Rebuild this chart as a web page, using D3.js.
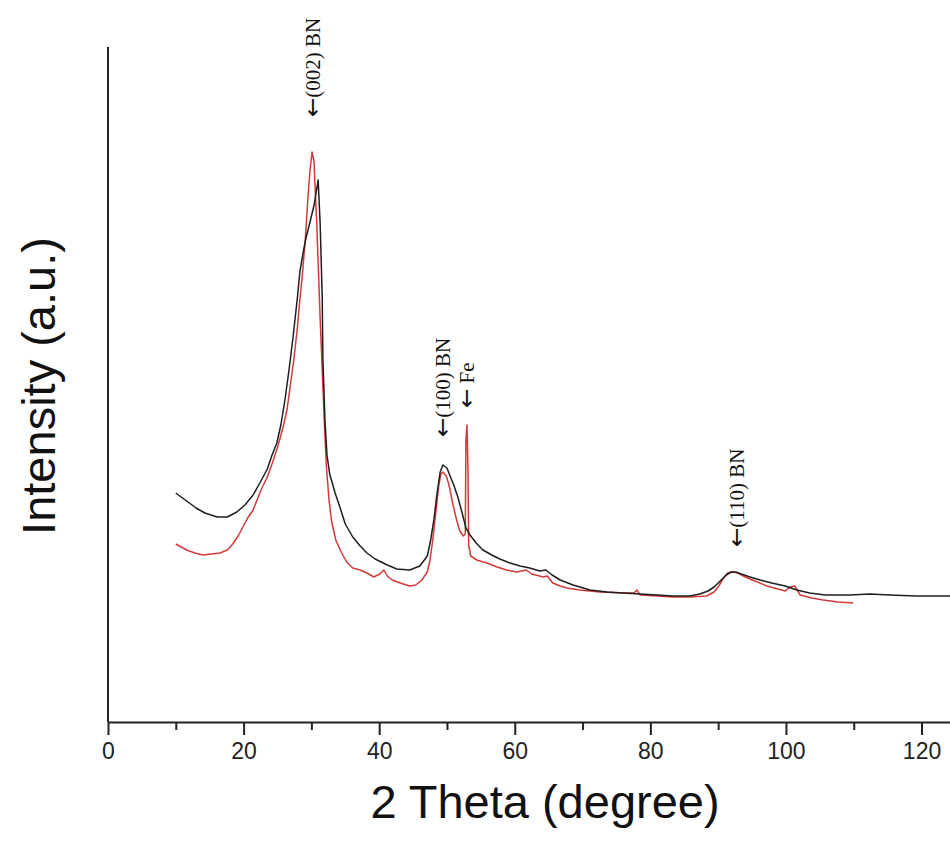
<!DOCTYPE html>
<html>
<head>
<meta charset="utf-8">
<script src="https://cdn.jsdelivr.net/npm/d3@7"></script>
<style>
  html, body { margin: 0; padding: 0; background: #fff; }
  svg { display: block; }
</style>
</head>
<body>
<svg id="chart" width="950" height="845"></svg>
<script>
// ---------- DATA ----------
const blackTheta = [10.0,11.0,12.0,13.0,14.3,16.1,17.6,19.0,20.2,21.4,22.4,23.5,24.2,24.9,25.5,26.1,26.7,27.3,27.9,28.3,28.8,29.2,29.8,30.4,31.0,31.3,31.6,31.7,32.0,32.3,32.7,33.5,34.2,35.0,36.1,37.2,38.2,39.4,41.2,42.6,44.5,46.0,47.1,47.6,48.1,48.5,49.0,49.4,50.0,50.4,51.0,51.6,52.2,52.8,53.4,54.3,55.3,56.6,57.8,59.3,60.8,62.2,63.7,64.6,65.5,66.7,68.6,71.1,73.6,76.0,78.5,81.0,83.3,85.8,87.3,88.5,89.4,90.3,91.2,91.9,92.6,93.4,94.7,96.2,97.9,99.9,101.6,103.5,105.8,109.4,112.4,115.3,119.3,124.2];
const blackIntensity = [229,224,219,214,209,205,205,210,217,227,239,253,267,279,297,322,352,385,422,450,470,484,500,517,542,497,425,362,302,267,248,229,215,198,185,176,169,163,157,153,152,156,166,182,204,227,250,257,254,247,237,225,210,194,187,179,172,167,163,159,156,154,151,152,147,142,137,132,130,129,128,127,126,126,128,131,135,141,147,150,150,148,145,142,139,136,132,129,127,127,128,127,126,126];

const redTheta = [10.0,11.6,12.8,14.0,15.3,16.5,17.6,18.4,19.2,19.9,20.6,21.4,22.1,22.7,23.5,24.3,25.1,25.8,26.4,26.8,27.4,27.9,28.3,28.6,29.1,29.5,29.8,30.1,30.4,30.5,30.8,31.0,31.3,31.6,31.9,32.2,32.6,33.0,33.6,34.4,35.2,36.1,37.2,38.2,39.2,40.1,40.7,41.2,41.9,43.1,44.5,45.4,46.3,47.1,47.5,47.9,48.4,48.8,49.1,49.4,49.9,50.3,50.9,51.5,51.9,52.4,52.7,52.8,52.95,53.1,53.2,53.5,54.4,55.9,57.4,58.8,60.3,61.7,62.5,64.2,64.8,65.6,66.7,67.7,69.6,72.6,76.0,77.6,78.0,78.5,81.0,83.3,85.8,88.3,89.4,90.1,90.7,91.4,92.2,92.9,94.0,95.4,97.2,98.8,99.9,100.6,101.3,102.1,103.8,105.5,107.7,109.9];
const redIntensity = [178,172,169,167,168,169,172,178,186,195,204,212,224,234,245,260,277,294,312,332,362,392,422,442,482,525,552,570,560,542,497,459,402,352,302,257,222,200,182,170,160,154,152,149,145,148,152,146,142,139,136,137,142,150,162,182,212,237,248,250,246,237,217,200,191,186,188,282,297,252,177,166,162,159,155,152,150,152,148,145,146,139,136,134,132,130,129,129,132,127,126,125,125,126,130,136,143,149,150,149,145,141,136,133,131,135,136,127,124,122,120,119];

const xTicks = [0, 20, 40, 60, 80, 100, 120];
const xMinorTicks = [10, 30, 50, 70, 90, 110];

const peakLabels = ["(002) BN", "(100) BN", " Fe", "(110) BN"];
const peakTheta = [30.2, 49.3, 52.95, 92.8];
const peakTip = [605, 285, 314, 175];

// ---------- CHART ----------
const svg = d3.select("#chart");
const x = d3.scaleLinear().domain([0, 124.2]).range([108, 950]);
const y = d3.scaleLinear().domain([0, 675]).range([722, 47]);

const axisColor = "#222";

// y axis line (no ticks)
svg.append("line")
  .attr("x1", x(0)).attr("x2", x(0))
  .attr("y1", y(675)).attr("y2", y(0))
  .attr("stroke", axisColor).attr("stroke-width", 2);

// x axis with major ticks
const xAxis = d3.axisBottom(x).tickValues(xTicks).tickSize(13).tickSizeOuter(0).tickPadding(8)
  .tickFormat(d3.format("d"));
const gx = svg.append("g").attr("transform", `translate(0,${y(0)})`).call(xAxis);
gx.select(".domain").attr("stroke", axisColor).attr("stroke-width", 2.2);
gx.selectAll(".tick line").attr("stroke", axisColor).attr("stroke-width", 2);
gx.selectAll(".tick text")
  .attr("font-family", "Liberation Sans, Arial, sans-serif")
  .attr("font-size", 23).attr("fill", "#222");

// minor ticks
const xAxisMinor = d3.axisBottom(x).tickValues(xMinorTicks).tickSize(8).tickSizeOuter(0).tickFormat("");
const gxm = svg.append("g").attr("transform", `translate(0,${y(0)})`).call(xAxisMinor);
gxm.select(".domain").remove();
gxm.selectAll(".tick line").attr("stroke", axisColor).attr("stroke-width", 2);

// curves
const line = d3.line().x(d => x(d[0])).y(d => y(d[1]));
const blackData = blackTheta.map((t, i) => [t, blackIntensity[i]]);
const redData = redTheta.map((t, i) => [t, redIntensity[i]]);

svg.append("path").datum(redData)
  .attr("d", line).attr("fill", "none")
  .attr("stroke", "#d23a3a").attr("stroke-width", 1.5).attr("stroke-linejoin", "round");
svg.append("path").datum(blackData)
  .attr("d", line).attr("fill", "none")
  .attr("stroke", "#1e1e1e").attr("stroke-width", 1.5).attr("stroke-linejoin", "round");

// peak annotations (vertical text, arrow pointing down)
peakLabels.forEach((lab, i) => {
  const t = svg.append("text")
    .attr("transform", `translate(${x(peakTheta[i])},${y(peakTip[i])}) rotate(-90)`)
    .attr("dy", "0.35em")
    .attr("text-anchor", "start")
    .attr("font-family", "Liberation Serif, Times New Roman, serif")
    .attr("font-size", 21)
    .attr("fill", "#111");
  t.append("tspan")
    .attr("font-family", "DejaVu Sans, sans-serif")
    .attr("font-size", 23)
    .text("\u2190");
  t.append("tspan").text(lab);
});

// axis titles
svg.append("text")
  .attr("x", 545).attr("y", 818)
  .attr("text-anchor", "middle")
  .attr("font-family", "Liberation Sans, Arial, sans-serif")
  .attr("font-size", 47).attr("fill", "#111")
  .text("2 Theta (degree)");

svg.append("text")
  .attr("transform", "translate(55,386) rotate(-90)")
  .attr("text-anchor", "middle")
  .attr("font-family", "Liberation Sans, Arial, sans-serif")
  .attr("font-size", 47).attr("fill", "#111")
  .text("Intensity (a.u.)");
</script>
</body>
</html>
